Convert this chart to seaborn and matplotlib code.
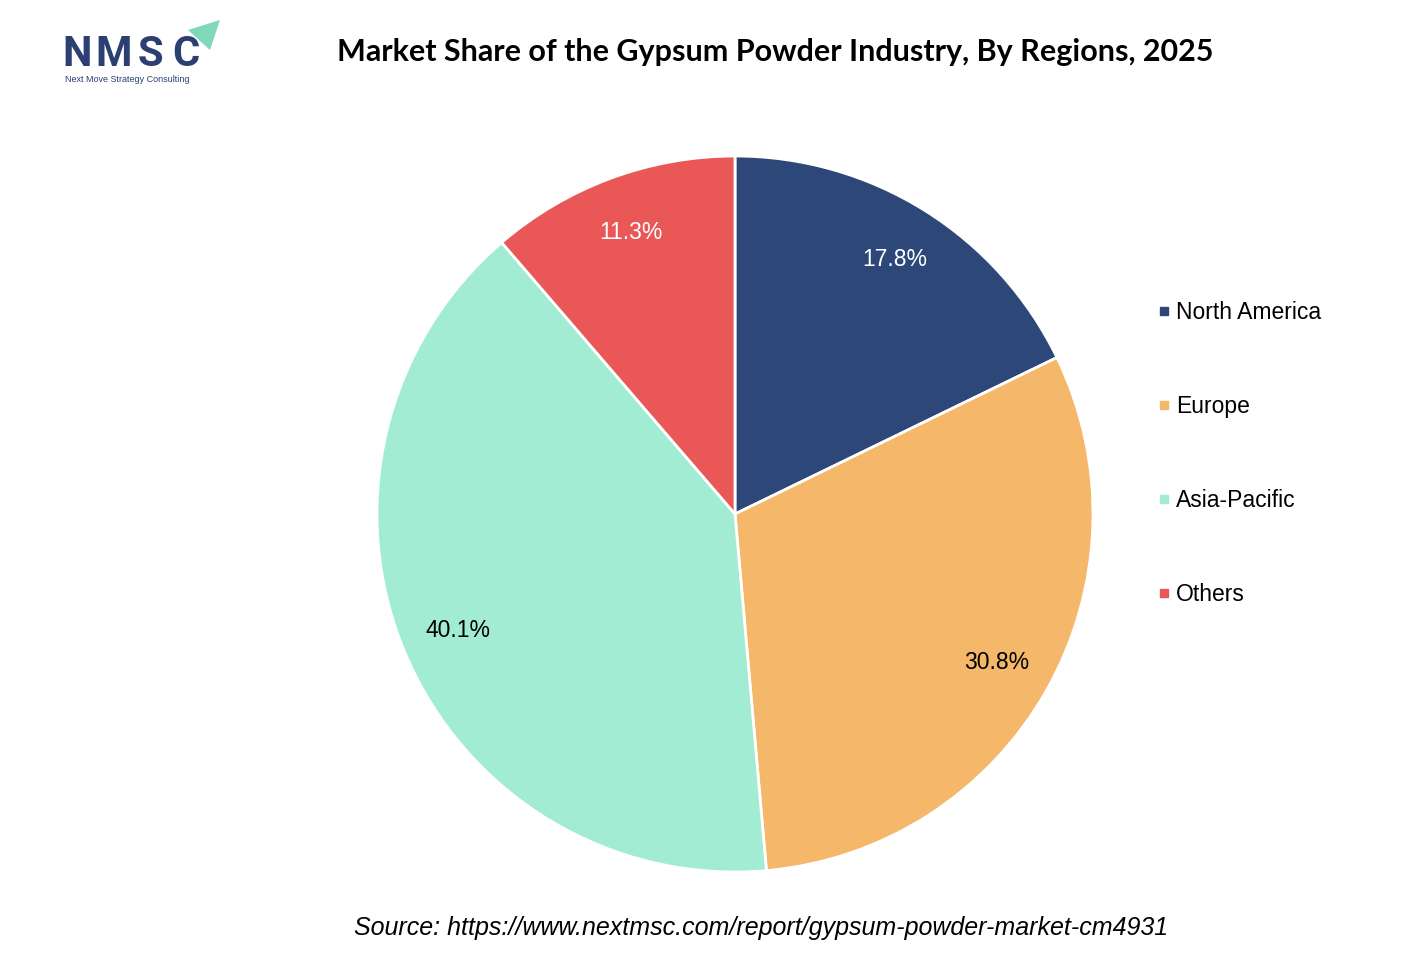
import matplotlib
matplotlib.use("Agg")
import matplotlib.pyplot as plt
import seaborn as sns
from matplotlib.lines import Line2D
from matplotlib.patches import Polygon

regions = ["North America", "Europe", "Asia-Pacific", "Others"]
shares = [17.8, 30.8, 40.1, 11.3]
colors = ["#2D4779", "#F5B76A", "#A1ECD3", "#E95757"]
label_colors = ["white", "black", "black", "white"]
title = "Market Share of the Gypsum Powder Industry, By Regions, 2025"
source = "Source: https://www.nextmsc.com/report/gypsum-powder-market-cm4931"

sns.set_theme(style="white")
plt.rcParams["font.family"] = ["Liberation Sans", "DejaVu Sans"]
plt.rcParams["text.color"] = "black"

fig = plt.figure(figsize=(14.26, 9.58), dpi=100)
fig.patch.set_facecolor("white")

cx, cy, r = 735 / 1426, 1 - 514 / 958, 358
ax = fig.add_axes([cx - r / 1426, cy - r / 958, 2 * r / 1426, 2 * r / 958])
palette = sns.color_palette(colors)
wedges, texts, autotexts = ax.pie(
    shares, colors=palette, startangle=90, counterclock=False,
    autopct="%.1f%%", pctdistance=0.84,
    wedgeprops=dict(edgecolor="white", linewidth=2),
    textprops=dict(fontsize=16.5),
)
for t, c in zip(autotexts, label_colors):
    t.set_color(c)
ax.set_xlim(-1, 1)
ax.set_ylim(-1, 1)
ax.set_aspect("equal")
ax.axis("off")

handles = [Line2D([0], [0], marker="s", linestyle="none", markersize=6,
                  markerfacecolor=c, markeredgecolor=c) for c in colors]
fig.legend(handles, regions, loc="upper left", bbox_to_anchor=(1146 / 1426, 1 - 292 / 958),
           frameon=False, fontsize=16.5, labelspacing=3.1, handletextpad=0.1,
           handlelength=0.8, borderaxespad=0, labelcolor="black")

fig.text(775 / 1426, 1 - 52 / 958, title, ha="center", va="center",
         fontsize=22, fontweight="bold", color="black", family=["Lato", "DejaVu Sans"])
fig.text(761 / 1426, 1 - 928 / 958, source, ha="center", va="center",
         fontsize=18, style="italic", color="black")

# logo
for ch, x in zip("NMSC", [77, 114, 150, 186]):
    fig.text(x / 1426, 1 - 54 / 958, ch, ha="center", va="center", fontsize=30,
             fontweight="bold", color="#2B3F73", family=["Roboto", "DejaVu Sans"])
fig.text(65 / 1426, 1 - 79 / 958, "Next Move Strategy Consulting", ha="left", va="center",
         fontsize=6.5, color="#2B3F73")
tri = Polygon([[188 / 1426, 1 - 30 / 958], [220 / 1426, 1 - 20 / 958], [210 / 1426, 1 - 50 / 958]],
              closed=True, transform=fig.transFigure, facecolor="#7FD8B8", edgecolor="none")
fig.patches.append(tri)

fig.savefig("out.png", dpi=100, facecolor="white")
